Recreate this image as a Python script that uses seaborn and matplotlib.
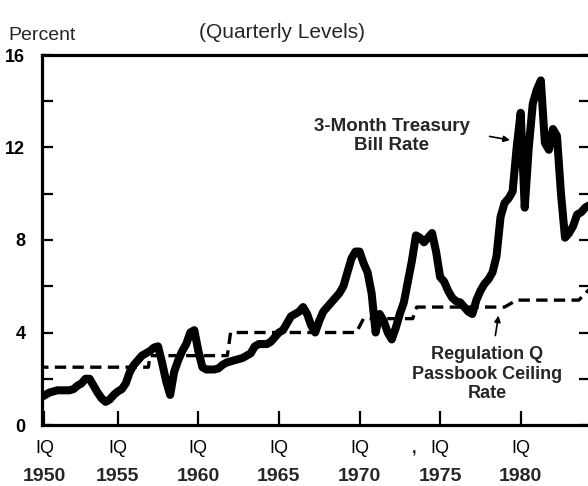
import matplotlib as mpl
mpl.use("Agg")
import matplotlib.pyplot as plt
from matplotlib.ticker import MultipleLocator
import numpy as np
import pandas as pd
import seaborn as sns

# 3-month Treasury bill rate, quarterly levels from 1950 IQ
tbill_start = 1950.0
tbill_rate = [
    1.2, 1.2, 1.3, 1.4, 1.45, 1.5, 1.5, 1.5, 1.5, 1.55,
    1.7, 1.8, 2.0, 2.0, 1.7, 1.4, 1.15, 1.0, 1.1, 1.3,
    1.45, 1.55, 1.8, 2.3, 2.6, 2.8, 3.0, 3.1, 3.2, 3.35,
    3.4, 2.7, 1.9, 1.3, 2.3, 2.8, 3.2, 3.5, 4.0, 4.1,
    3.2, 2.5, 2.4, 2.4, 2.4, 2.45, 2.6, 2.7, 2.75, 2.8,
    2.85, 2.9, 3.0, 3.1, 3.4, 3.5, 3.5, 3.5, 3.6, 3.8,
    4.0, 4.1, 4.4, 4.7, 4.8, 4.9, 5.1, 4.8, 4.3, 4.0,
    4.5, 4.9, 5.1, 5.3, 5.5, 5.7, 6.0, 6.6, 7.2, 7.5,
    7.5, 7.0, 6.6, 5.7, 4.0, 4.8, 4.5, 4.0, 3.7, 4.2,
    4.8, 5.3, 6.2, 7.1, 8.2, 8.1, 7.9, 8.1, 8.3, 7.5,
    6.4, 6.2, 5.8, 5.5, 5.35, 5.3, 5.1, 4.9, 4.8, 5.4,
    5.8, 6.1, 6.3, 6.6, 7.3, 9.0, 9.6, 9.8, 10.1, 12.0,
    13.5, 9.4, 12.0, 13.9, 14.5, 14.9, 12.2, 11.9, 12.8, 12.5,
    10.0, 8.1, 8.3, 8.6, 9.1, 9.2, 9.4, 9.5,
]

# Regulation Q passbook ceiling rate (breakpoints)
regq_year = [1950.0, 1956.9, 1957.0, 1961.8, 1962.0, 1969.8, 1970.25,
             1973.3, 1973.55, 1979.0, 1979.75, 1983.6, 1984.3]
regq_rate = [2.5, 2.5, 3.0, 3.0, 4.0, 4.0, 4.6,
             4.6, 5.1, 5.1, 5.4, 5.4, 5.9]

tick_years = [1950, 1955, 1960, 1965, 1970, 1975, 1980]
y_major = [0, 4, 8, 12, 16]

X_LEFT, X_RIGHT = 1950.3, 1984.3

sns.set_theme(style="ticks")
plt.rcParams["font.family"] = ["Liberation Sans", "DejaVu Sans"]

tb = pd.DataFrame({
    "year": tbill_start + np.arange(len(tbill_rate)) / 4.0,
    "rate": tbill_rate,
})
rq = pd.DataFrame({"year": regq_year, "rate": regq_rate})

fig = plt.figure(figsize=(5.88, 4.86), dpi=100)
ax = fig.add_axes([42 / 588, 61 / 486, 548 / 588, 370 / 486])

sns.lineplot(data=rq, x="year", y="rate", ax=ax, color="black", lw=2.4,
             linestyle=(0, (3.4, 1.9)), zorder=2)
sns.lineplot(data=tb, x="year", y="rate", ax=ax, color="black", lw=5.8,
             solid_joinstyle="round", solid_capstyle="round", zorder=3)

ax.set_xlim(X_LEFT, X_RIGHT)
ax.set_ylim(0, 16)
ax.set_xlabel("")
ax.set_ylabel("")

for s in ax.spines.values():
    s.set_linewidth(2.3)
    s.set_color("black")

# x ticks: inward, "IQ" under each, year below
xpos = [X_LEFT + 0.15 if y < X_LEFT else y for y in tick_years]
ax.set_xticks(xpos)
ax.set_xticklabels(["IQ"] * len(xpos), fontsize=13)
ax.tick_params(axis="x", direction="in", length=10, width=1.6, pad=11,
               colors="black")
for x, y in zip(xpos, tick_years):
    ax.text(x, -0.151, str(y), transform=ax.get_xaxis_transform(),
            ha="center", va="baseline", fontsize=14, fontweight="bold")

# y ticks on both sides, inward
ax.set_yticks(y_major)
ax.set_yticklabels([str(v) for v in y_major], fontsize=13, fontweight="bold")
ax.yaxis.set_minor_locator(MultipleLocator(2))
ax.tick_params(axis="y", which="both", direction="in", length=8, width=1.6,
               right=True, pad=12, colors="black")

ax.text(1972.0, 12.5, "3-Month Treasury\nBill Rate", ha="center",
        va="center", multialignment="center", fontsize=13.5,
        fontweight="bold", linespacing=1.12)
ax.annotate("", xy=(1979.5, 12.3), xytext=(1977.9, 12.5),
            arrowprops=dict(arrowstyle="-|>", color="black", lw=1.2,
                            mutation_scale=9))

ax.text(1977.9, 2.2, "Regulation Q\nPassbook Ceiling\nRate", ha="center",
        va="center", multialignment="center", fontsize=13,
        fontweight="bold", linespacing=1.22)
ax.annotate("", xy=(1978.65, 4.85), xytext=(1978.4, 3.75),
            arrowprops=dict(arrowstyle="-|>", color="black", lw=1.2,
                            mutation_scale=9))

ax.text(1973.4, -0.065, ",", transform=ax.get_xaxis_transform(),
        ha="center", va="center", fontsize=12, fontweight="bold")

fig.text(282 / 588, 1 - 33 / 486, "(Quarterly Levels)", ha="center",
         va="center", fontsize=15)
fig.text(8 / 588, 1 - 35 / 486, "Percent", ha="left", va="center",
         fontsize=14)

fig.savefig("out.png", dpi=100)
